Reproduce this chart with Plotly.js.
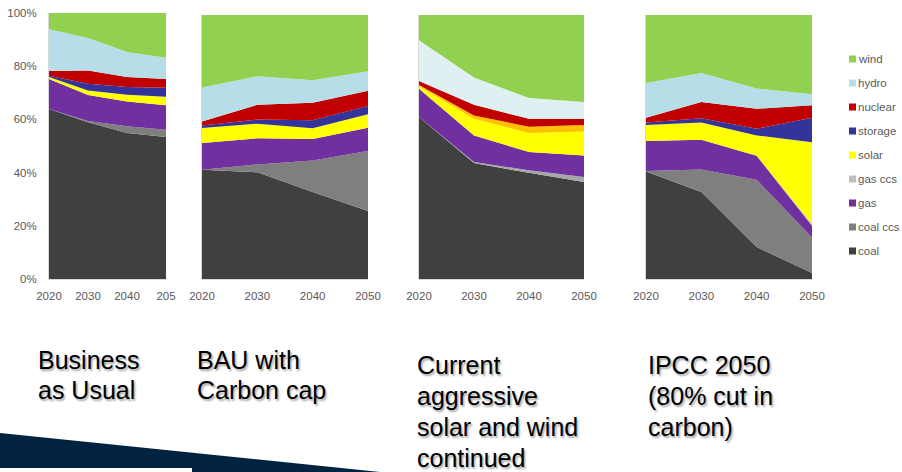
<!DOCTYPE html>
<html><head><meta charset="utf-8">
<script src="https://cdn.plot.ly/plotly-3.0.1.min.js"></script>
<style>html,body{margin:0;padding:0;background:#fff}#chart{width:902px;height:472px}</style>
</head><body><div id="chart"></div>
<script>
// ---- data ----
const years = [2020, 2030, 2040, 2050];
const seriesNames = ['coal', 'coal ccs', 'gas', 'gas ccs', 'solar', 'storage', 'nuclear', 'hydro', 'wind'];

// share of generation (%), rows follow seriesNames
const bauValues = [
  [63.9, 58.9, 54.9, 53.4],  // coal
  [0.0, 0.5, 2.5, 2.7],      // coal ccs
  [11.3, 9.8, 9.3, 9.2],     // gas
  [0.0, 0.0, 0.0, 0.0],      // gas ccs
  [0.7, 1.7, 2.6, 3.2],      // solar
  [0.5, 2.5, 2.9, 3.4],      // storage
  [1.8, 5.0, 3.7, 3.3],      // nuclear
  [15.7, 12.2, 9.4, 8.0],    // hydro
  [6.1, 9.4, 14.7, 16.8]     // wind
];
const capValues = [
  [41.4, 40.4, 33.0, 25.8],
  [0.0, 3.0, 11.9, 22.7],
  [10.1, 9.9, 8.1, 8.8],
  [0.0, 0.0, 0.0, 0.0],
  [5.7, 5.5, 4.1, 5.1],
  [0.9, 1.6, 3.0, 3.1],
  [1.6, 5.6, 6.7, 5.8],
  [12.8, 10.8, 8.5, 7.4],
  [27.5, 23.2, 24.7, 21.3]
];
const aggressiveValues = [
  [61.4, 43.9, 40.2, 36.7],
  [0.0, 0.4, 1.0, 1.9],
  [10.7, 10.1, 6.9, 8.2],
  [0.0, 0.0, 0.0, 0.0],
  [0.9, 6.3, 7.2, 9.1],
  [0.5, 1.2, 2.4, 2.4],
  [1.5, 4.1, 3.0, 2.4],
  [15.4, 10.3, 7.9, 6.3],
  [9.6, 23.7, 31.4, 33.0]
];
const ipccValues = [
  [40.7, 33.0, 12.1, 2.3],
  [0.2, 8.5, 25.5, 13.4],
  [11.4, 11.2, 9.1, 4.5],
  [0.0, 0.0, 0.0, 0.6],
  [6.0, 6.6, 7.7, 31.0],
  [1.0, 1.6, 2.5, 9.3],
  [1.8, 6.1, 7.6, 4.7],
  [13.1, 11.0, 7.7, 4.2],
  [25.8, 22.0, 27.8, 30.0]
];

const xTickLabelsFirst = ['2020', '2030', '2040', '205'];
const xTickLabels = ['2020', '2030', '2040', '2050'];
const yTickValues = [0, 20, 40, 60, 80, 100];
const yTickLabels = ['0%', '20%', '40%', '60%', '80%', '100%'];
const scenarioLabels = [
  ['Business', 'as Usual'],
  ['BAU with', 'Carbon cap'],
  ['Current', 'aggressive', 'solar and wind', 'continued'],
  ['IPCC 2050', '(80% cut in', 'carbon)']
];

// ---- styles ----
const baseColors = {
  'coal': '#404040', 'coal ccs': '#7f7f7f', 'gas': '#7030a0', 'gas ccs': '#bfbfbf',
  'solar': '#ffff00', 'storage': '#333399', 'nuclear': '#c00000', 'hydro': '#b7dee8', 'wind': '#92d050'
};
const aggressiveColors = Object.assign({}, baseColors, {
  'coal ccs': '#a6a6a6', 'storage': '#ffc000', 'hydro': '#dff0f3'
});

const W = 902, H = 472;
const px = v => v / W;
const py = v => 1 - v / H;
const FONT = 'Liberation Sans, Arial, sans-serif';

const panels = [
  {values: bauValues, colors: baseColors, x: [49, 166], top: 13, ticks: xTickLabelsFirst},
  {values: capValues, colors: baseColors, x: [202, 368], top: 15, ticks: xTickLabels},
  {values: aggressiveValues, colors: aggressiveColors, x: [419, 584], top: 15, ticks: xTickLabels},
  {values: ipccValues, colors: baseColors, x: [646, 812], top: 15, ticks: xTickLabels}
];
const plotBottom = 279;

const traces = [];
const layout = {
  width: W, height: H,
  margin: {l: 0, r: 0, t: 0, b: 0},
  paper_bgcolor: '#ffffff', plot_bgcolor: '#ffffff',
  showlegend: false,
  font: {family: FONT, color: '#595959'},
  annotations: [], shapes: []
};

panels.forEach((p, i) => {
  const sfx = i === 0 ? '' : String(i + 1);
  seriesNames.forEach((name, s) => {
    traces.push({
      type: 'scatter', mode: 'lines',
      x: years, y: p.values[s],
      name: name,
      stackgroup: 'g' + i,
      line: {width: 0, color: p.colors[name]},
      fillcolor: p.colors[name],
      xaxis: 'x' + sfx, yaxis: 'y' + sfx,
      hovertemplate: name + ': %{y:.1f}%<extra></extra>'
    });
  });
  layout['xaxis' + sfx] = {
    domain: [px(p.x[0]), px(p.x[1])],
    anchor: 'y' + sfx,
    range: [2020, 2050],
    tickmode: 'array', tickvals: years, ticktext: p.ticks,
    showgrid: false, zeroline: false,
    showline: true, linecolor: '#d9d9d9', linewidth: 1,
    ticks: '', ticklabelstandoff: 6,
    tickfont: {size: 11.5, color: '#595959', family: FONT},
    fixedrange: true
  };
  layout['yaxis' + sfx] = {
    domain: [py(plotBottom), py(p.top)],
    anchor: 'x' + sfx,
    range: [0, 100],
    tickmode: 'array', tickvals: yTickValues, ticktext: yTickLabels,
    showticklabels: i === 0,
    showgrid: false, zeroline: false,
    showline: true, linecolor: '#d9d9d9', linewidth: 1,
    ticks: '', ticklabelstandoff: 9,
    tickfont: {size: 11.5, color: '#595959', family: FONT},
    fixedrange: true
  };
});

// custom legend (top to bottom: reversed stack order)
const legendOrder = seriesNames.slice().reverse();
legendOrder.forEach((name, k) => {
  const cy = 59 + k * 24;
  layout.shapes.push({
    type: 'rect', xref: 'paper', yref: 'paper',
    x0: px(849), x1: px(856), y0: py(cy + 3.5), y1: py(cy - 3.5),
    fillcolor: baseColors[name], line: {width: 0}
  });
  layout.annotations.push({
    xref: 'paper', yref: 'paper', x: px(855.5), y: py(cy),
    xanchor: 'left', yanchor: 'middle', showarrow: false,
    text: name, font: {size: 11.5, color: '#595959', family: FONT}
  });
});

// scenario captions
const captionX = [36, 195, 415, 646];
const captionY0 = [359.5, 359.5, 364.5, 364.5];
const lineGap = [30.6, 30.6, 31.2, 31.2];
scenarioLabels.forEach((lines, i) => {
  lines.forEach((t, j) => {
    layout.annotations.push({
      xref: 'paper', yref: 'paper', x: px(captionX[i]), y: py(captionY0[i] + j * lineGap[i]),
      xanchor: 'left', yanchor: 'middle', showarrow: false, text: t,
      font: {size: 25, color: '#000000', family: FONT, shadow: '1.5px 1.5px 2px rgba(0,0,0,0.35)'}
    });
  });
});

// decorative slide footer
layout.shapes.push({
  type: 'path', xref: 'paper', yref: 'paper', layer: 'below',
  path: `M 0 ${py(433)} L ${px(380)} ${py(472)} L 0 ${py(472)} Z`,
  fillcolor: '#012340', line: {width: 0}
});
layout.shapes.push({
  type: 'rect', xref: 'paper', yref: 'paper', layer: 'below',
  x0: 0, x1: px(192), y0: py(472), y1: py(468),
  fillcolor: '#ffffff', line: {width: 0}
});

Plotly.newPlot('chart', traces, layout, {displayModeBar: false});
</script>
</body></html>
